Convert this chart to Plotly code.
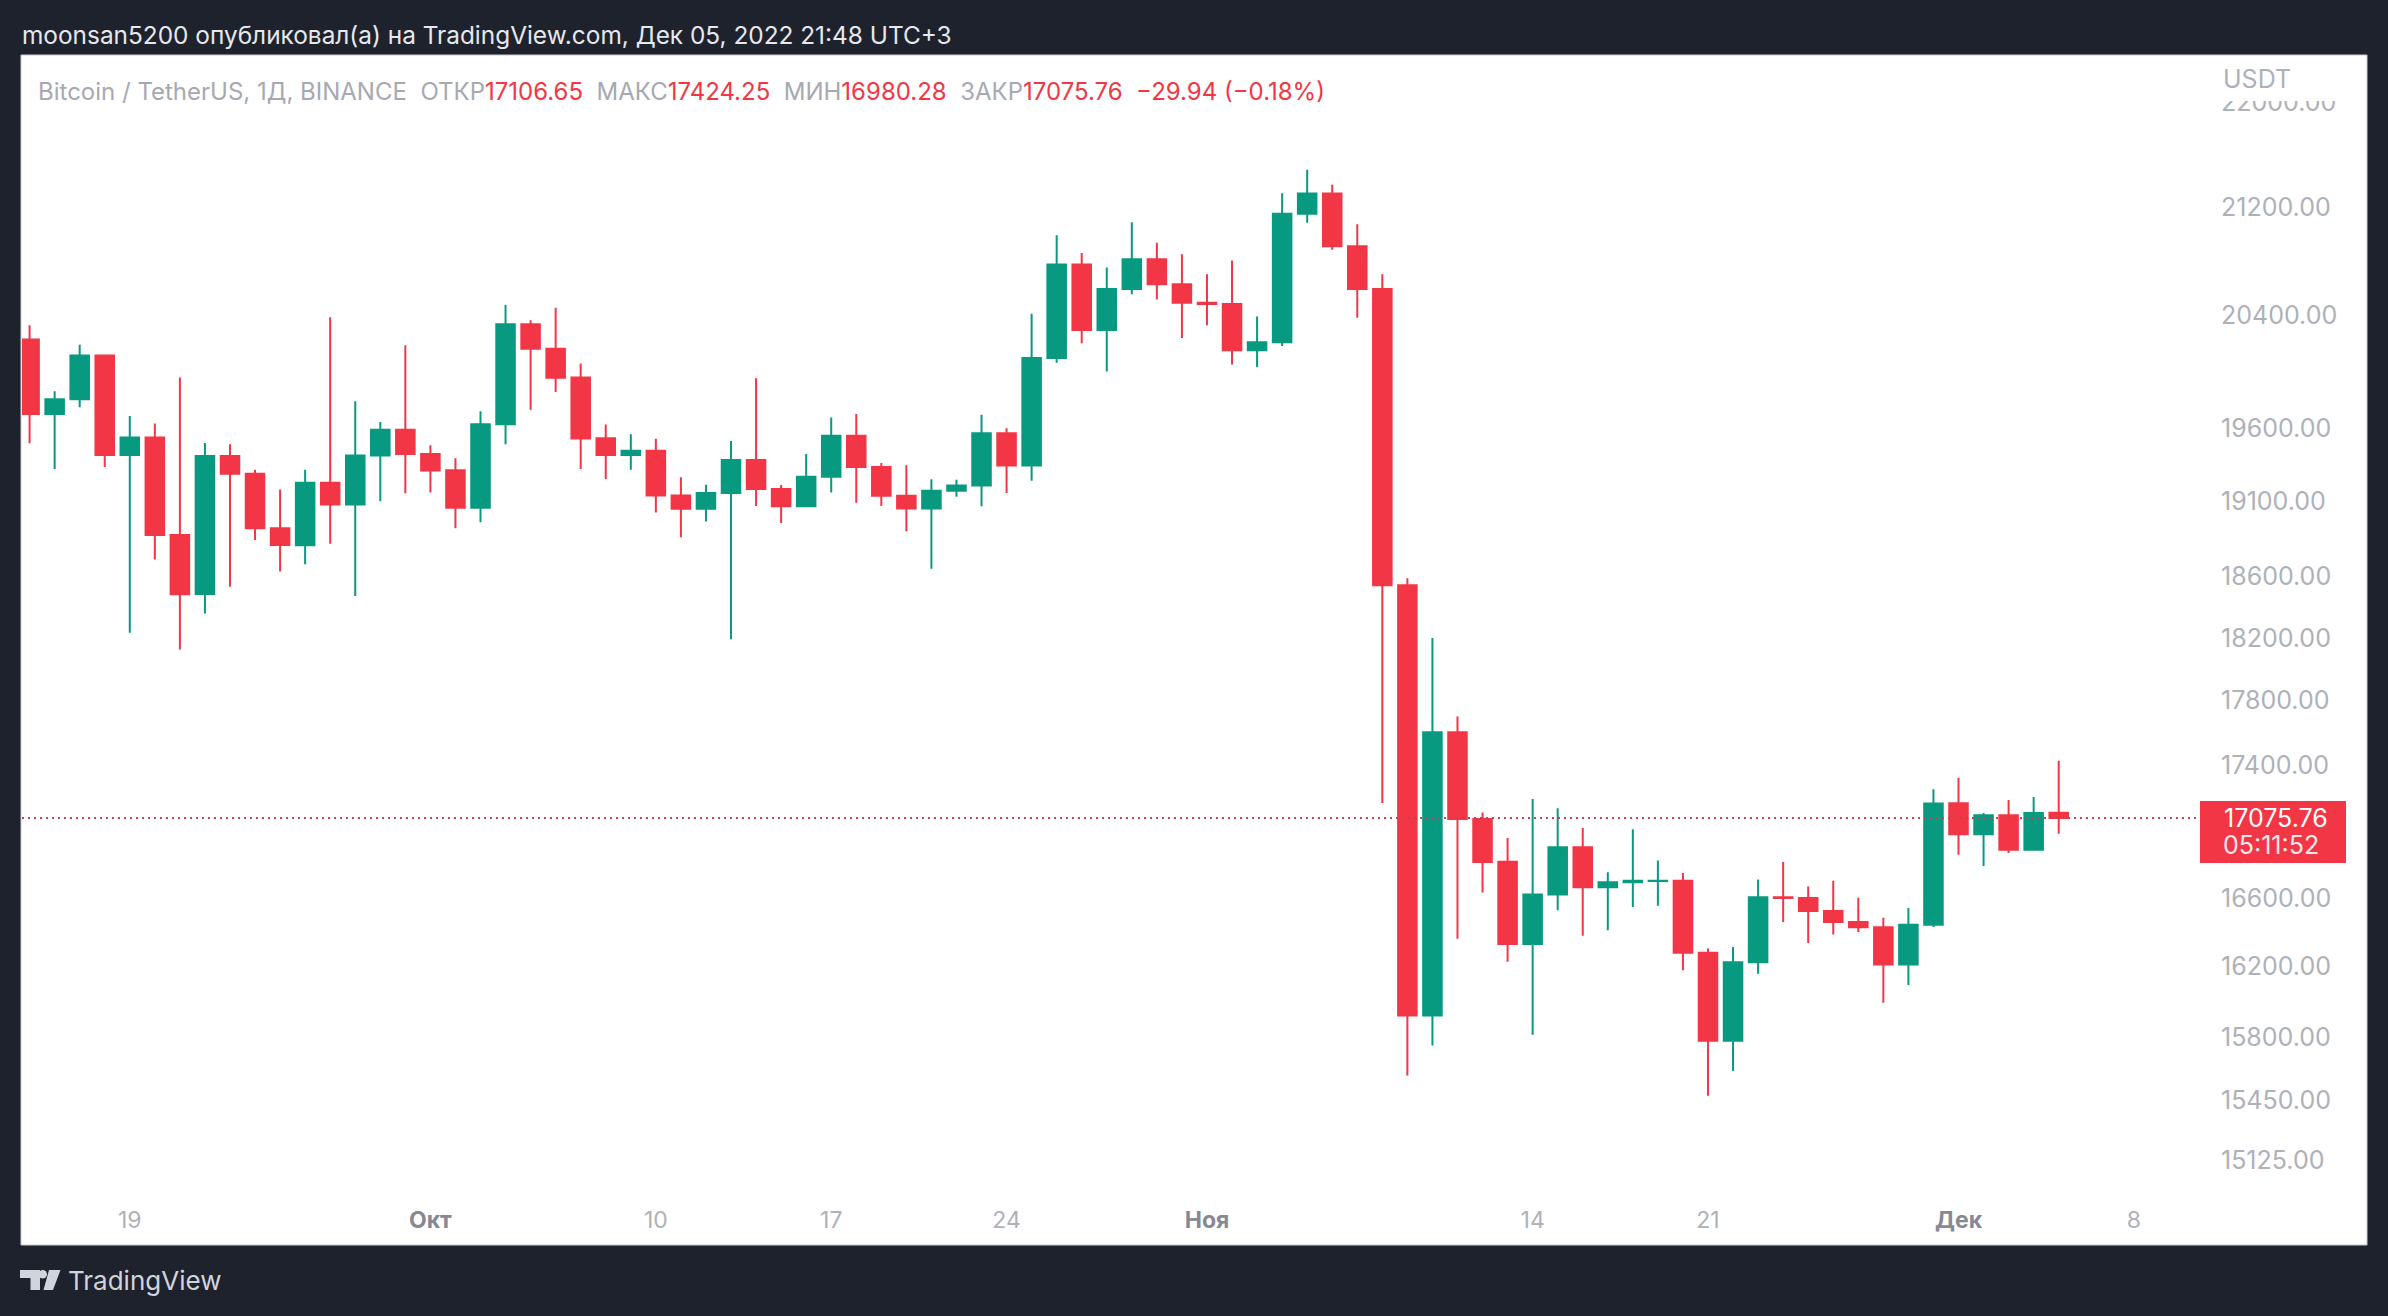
import math
import pandas as pd
import plotly.graph_objects as go

W, H = 2388, 1316

# ---------------- data ----------------
dates = pd.date_range("2022-09-15", "2022-12-05", freq="D").strftime("%Y-%m-%d").tolist()

open_ = [20227, 19701, 19803, 20113, 19417, 19538, 18875, 18484, 19410, 19289,
         18920, 18807, 19227, 19079, 19413, 19591, 19423, 19312, 19057, 19629,
         20337, 20160, 19956, 19532, 19417, 19446, 19141, 19051, 19157, 19382,
         19185, 19068, 19268, 19550, 19335, 19139, 19053, 19172, 19208, 19567,
         19345, 20095, 20772, 20295, 20591, 20809, 20627, 20491, 20482, 20151,
         20208, 21148, 21299, 20905, 20591, 18542, 15922, 17602, 17070, 16813,
         16331, 16619, 16900, 16662, 16692, 16699, 16700, 16280, 15781, 16226,
         16603, 16598, 16522, 16458, 16428, 16213, 16443, 17165, 16978, 17092,
         16885, 17106.65]
high = [20330, 19860, 20189, 20114, 19686, 19634, 19956, 19500, 19490, 19316,
        19181, 19316, 20386, 19790, 19645, 20185, 19484, 19395, 19719, 20475,
        20365, 20456, 20055, 19627, 19560, 19528, 19264, 19214, 19513, 19951,
        19212, 19424, 19676, 19700, 19361, 19346, 19250, 19248, 19695, 19601,
        20413, 20987, 20855, 20750, 21085, 20931, 20847, 20700, 20800, 20393,
        21302, 21480, 21365, 21069, 20700, 18587, 18199, 17700, 17109, 16955,
        17190, 17134, 17015, 16751, 17007, 16820, 16746, 16305, 16313, 16708,
        16812, 16666, 16700, 16600, 16483, 16540, 17250, 17320, 17105, 17185,
        17203, 17424.25]
low = [19497, 19320, 19748, 19335, 18232, 18711, 18125, 18357, 18532, 18842,
       18633, 18680, 18816, 18471, 19102, 19155, 19160, 18920, 18960, 19490,
       19730, 19854, 19320, 19253, 19316, 19026, 18860, 18965, 18190, 19070,
       18955, 19064, 19160, 19091, 19070, 18900, 18650, 19132, 19068, 19157,
       19240, 20061, 20200, 20000, 20554, 20515, 20237, 20330, 20048, 20031,
       20180, 21081, 20880, 20384, 17166, 15588, 15754, 16361, 16631, 16229,
       15815, 16527, 16378, 16410, 16546, 16553, 16180, 15476, 15613, 16160,
       16458, 16337, 16385, 16400, 15995, 16096, 16429, 16855, 16788, 16865,
       16878, 16980.28]
close = [19701, 19803, 20113, 19416, 19537, 18875, 18483, 19410, 19289, 18920,
         18808, 19227, 19079, 19413, 19591, 19423, 19311, 19057, 19630, 20337,
         20160, 19955, 19531, 19417, 19446, 19141, 19051, 19157, 19382, 19185,
         19067, 19268, 19550, 19334, 19139, 19053, 19172, 19208, 19567, 19345,
         20095, 20771, 20295, 20591, 20809, 20627, 20491, 20483, 20151, 20207,
         21148, 21299, 20905, 20591, 18541, 15922, 17601, 17070, 16812, 16330,
         16619, 16900, 16662, 16692, 16700, 16700, 16280, 15781, 16226, 16603,
         16598, 16522, 16458, 16428, 16213, 16443, 17163, 16978, 17092, 16885,
         17105.70, 17075.76]

y_tick_vals = [22000, 21200, 20400, 19600, 19100, 18600, 18200, 17800, 17400,
               16600, 16200, 15800, 15450, 15125]
x_tick_dates = ["2022-09-19", "2022-10-01", "2022-10-10", "2022-10-17", "2022-10-24",
                "2022-11-01", "2022-11-14", "2022-11-21", "2022-12-01", "2022-12-08"]
x_tick_labels = ["19", "Окт", "10", "17", "24", "Ноя", "14", "21", "Дек", "8"]
month_labels = {"Окт", "Ноя", "Дек"}

header_text = "moonsan5200 опубликовал(а) на TradingView.com, Дек 05, 2022 21:48 UTC+3"
symbol_text = "Bitcoin / TetherUS, 1Д, BINANCE"
countdown_text = "05:11:52"
currency_text = "USDT"

# ---------------- style ----------------
FONT = "Inter"
BG = "#1e222d"
UP = "#089981"
DOWN = "#f23645"
AXIS_TXT = "#aeb1b9"
MONTH_TXT = "#868993"
LEG_TXT = "#a6a9b1"


def px(x):
    return x / W


def py(y):
    return 1 - y / H


Y_DOMAIN = [py(1196), py(55)]
Y_RANGE = [math.log10(14937), math.log10(22370)]


def price_to_paper(p):
    f = (math.log10(p) - Y_RANGE[0]) / (Y_RANGE[1] - Y_RANGE[0])
    return Y_DOMAIN[0] + f * (Y_DOMAIN[1] - Y_DOMAIN[0])


last_close = close[-1]
prev_close = close[-2]
chg = last_close - prev_close
chg_pct = chg / prev_close * 100
line_y = price_to_paper(last_close)


def fmt_signed(v):
    s = f"{abs(v):.2f}"
    return ("\u2212" if v < 0 else "+") + s


fig = go.Figure()
fig.add_trace(go.Candlestick(
    x=dates, open=open_, high=high, low=low, close=close,
    increasing=dict(line=dict(color=UP, width=2), fillcolor=UP),
    decreasing=dict(line=dict(color=DOWN, width=2), fillcolor=DOWN),
    whiskerwidth=0, hoverinfo="skip", showlegend=False,
))

x_ticktext = []
for t in x_tick_labels:
    if t in month_labels:
        x_ticktext.append(f"<span style='color:{MONTH_TXT}'><b>{t}</b></span>")
    else:
        x_ticktext.append(t)

shapes = [
    # white chart panel
    dict(type="rect", xref="paper", yref="paper", x0=px(21), x1=px(2367), y0=py(1245), y1=py(55),
         fillcolor="white", line=dict(color="#c9cbd1", width=1), layer="below"),
    # cover at top of price scale (header zone)
    dict(type="rect", xref="paper", yref="paper", x0=px(2201), x1=px(2366), y0=py(101), y1=py(56),
         fillcolor="white", line=dict(width=0), layer="above"),
    # last price dotted line
    dict(type="line", xref="paper", yref="paper", x0=px(22), x1=px(2200),
         y0=line_y, y1=line_y,
         line=dict(color="#c44350", width=2, dash="2px,4px"), layer="above"),
    # last price label box
    dict(type="rect", xref="paper", yref="paper",
         x0=px(2200), x1=px(2346), y0=line_y - 45 / H, y1=line_y + 17 / H,
         fillcolor=DOWN, line=dict(width=0), layer="above"),
    # TradingView logo
    dict(type="rect", xref="paper", yref="paper", x0=px(20), x1=px(40), y0=py(1278), y1=py(1270),
         fillcolor="#d1d4dc", line=dict(width=0)),
    dict(type="rect", xref="paper", yref="paper", x0=px(30.5), x1=px(40), y0=py(1290), y1=py(1270),
         fillcolor="#d1d4dc", line=dict(width=0)),
    dict(type="circle", xref="paper", yref="paper", x0=px(38.5), x1=px(47), y0=py(1278.5), y1=py(1270),
         fillcolor="#d1d4dc", line=dict(width=0)),
    dict(type="path", xref="paper", yref="paper",
         path=f"M {px(49)},{py(1270)} L {px(60.5)},{py(1270)} L {px(53)},{py(1290)} L {px(43.5)},{py(1290)} Z",
         fillcolor="#d1d4dc", line=dict(width=0)),
]

legend_html = (
    f"<span style='color:{LEG_TXT}'>{symbol_text}\u00a0\u00a0ОТКР</span>"
    f"<span style='color:{DOWN}'>{open_[-1]:.2f}</span>"
    f"<span style='color:{LEG_TXT}'>\u00a0\u00a0МАКС</span>"
    f"<span style='color:{DOWN}'>{high[-1]:.2f}</span>"
    f"<span style='color:{LEG_TXT}'>\u00a0\u00a0МИН</span>"
    f"<span style='color:{DOWN}'>{low[-1]:.2f}</span>"
    f"<span style='color:{LEG_TXT}'>\u00a0\u00a0ЗАКР</span>"
    f"<span style='color:{DOWN}'>{last_close:.2f}\u00a0\u00a0{fmt_signed(chg)} ({fmt_signed(chg_pct)}%)</span>"
)

annotations = [
    dict(text=header_text, xref="paper", yref="paper", x=px(20), y=py(35), xanchor="left",
         yanchor="middle", showarrow=False, font=dict(family=FONT, size=24.4, color="#e6e8ee")),
    dict(text=legend_html, xref="paper", yref="paper", x=px(36), y=py(91), xanchor="left",
         yanchor="middle", showarrow=False, font=dict(family=FONT, size=24, color=LEG_TXT)),
    dict(text=currency_text, xref="paper", yref="paper", x=px(2221), y=py(79), xanchor="left",
         yanchor="middle", showarrow=False, font=dict(family=FONT, size=25, color=AXIS_TXT)),
    dict(text=f"{last_close:.2f}", xref="paper", yref="paper", x=px(2222), y=line_y,
         xanchor="left", yanchor="middle", showarrow=False,
         font=dict(family=FONT, size=25, color="white")),
    dict(text=countdown_text, xref="paper", yref="paper", x=px(2221), y=line_y - 27 / H,
         xanchor="left", yanchor="middle", showarrow=False,
         font=dict(family=FONT, size=25, color="#fde8ea")),
    dict(text="TradingView", xref="paper", yref="paper", x=px(66), y=py(1280), xanchor="left",
         yanchor="middle", showarrow=False, font=dict(family=FONT, size=26, color="#d1d4dc")),
]

fig.update_layout(
    width=W, height=H,
    margin=dict(l=0, r=0, t=0, b=0),
    paper_bgcolor=BG, plot_bgcolor="rgba(0,0,0,0)",
    showlegend=False,
    boxgap=0.26, boxgroupgap=0,
    font=dict(family=FONT),
    xaxis=dict(
        type="date", domain=[px(22), px(2200)],
        range=["2022-09-14 16:44", "2022-12-10 15:22"],
        tickmode="array", tickvals=x_tick_dates, ticktext=x_ticktext,
        showgrid=False, zeroline=False, showline=False, ticks="",
        tickfont=dict(family=FONT, size=23, color=AXIS_TXT),
        ticklabelstandoff=8,
        rangeslider=dict(visible=False), fixedrange=True,
    ),
    yaxis=dict(
        type="log", side="right", domain=Y_DOMAIN,
        range=Y_RANGE,
        tickmode="array", tickvals=y_tick_vals, ticktext=[f"{v:.2f}" for v in y_tick_vals],
        showgrid=False, zeroline=False, showline=False, ticks="",
        tickfont=dict(family=FONT, size=25, color=AXIS_TXT),
        ticklabelstandoff=20, fixedrange=True,
    ),
    shapes=shapes,
    annotations=annotations,
)

fig.write_html("out.html")
